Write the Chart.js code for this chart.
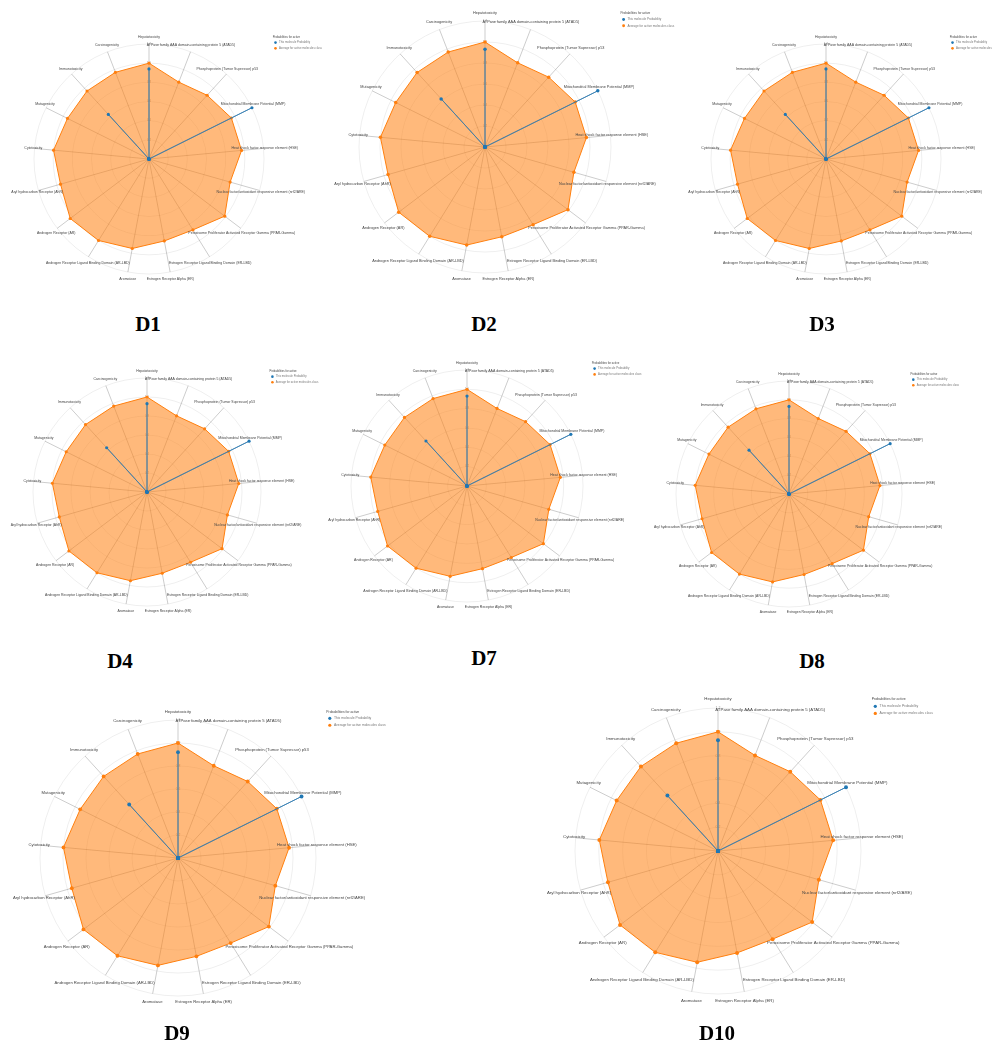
<!DOCTYPE html>
<html>
<head>
<meta charset="utf-8">
<script src="https://cdn.jsdelivr.net/npm/chart.js@4.4.1/dist/chart.umd.min.js"></script>
<style>
  html, body { margin: 0; padding: 0; background: #ffffff; }
  body { width: 992px; height: 1055px; position: relative; overflow: hidden; }
  canvas.radar { position: absolute; }
  .tag {
    position: absolute;
    font-family: "Liberation Serif", "Times New Roman", serif;
    font-weight: bold;
    font-size: 21px;
    color: #000;
    transform: translate(-50%, -50%);
    white-space: nowrap;
  }
</style>
</head>
<body>
<script>
// Toxicity end points, clockwise from the top spoke
const endpoints = [
  'Hepatotoxicity',
  'ATPase family AAA domain-containing protein 5 (ATAD5)',
  'Phosphoprotein (Tumor Supressor) p53',
  'Mitochondrial Membrane Potential (MMP)',
  'Heat shock factor response element (HSE)',
  'Nuclear factor/antioxidant responsive element (nrf2/ARE)',
  'Peroxisome Proliferator Activated Receptor Gamma (PPAR-Gamma)',
  'Estrogen Receptor Ligand Binding Domain (ER-LBD)',
  'Estrogen Receptor Alpha (ER)',
  'Aromatase',
  'Androgen Receptor Ligand Binding Domain (AR-LBD)',
  'Androgen Receptor (AR)',
  'Aryl hydrocarbon Receptor (AhR)',
  'Cytotoxicity',
  'Mutagenicity',
  'Immunotoxicity',
  'Carcinogenicity'
];

// Average probability of the active reference molecules for every end point
const activeAverage = [1.00, 0.86, 0.90, 0.96, 0.97, 0.88, 0.99, 0.87, 0.87, 0.95, 1.00, 1.03, 0.96, 1.00, 0.95, 0.96, 0.97];

// Predicted probability of each compound (active end points only)
const probD1  = [0.94, 0, 0, 1.20, 0, 0, 0, 0, 0, 0, 0, 0, 0, 0, 0, 0.63, 0];
const probD2  = [0.93, 0, 0, 1.20, 0, 0, 0, 0, 0, 0, 0, 0, 0, 0, 0, 0.62, 0];
const probD3  = [0.94, 0, 0, 1.20, 0, 0, 0, 0, 0, 0, 0, 0, 0, 0, 0, 0.63, 0];
const probD4  = [0.93, 0, 0, 1.20, 0, 0, 0, 0, 0, 0, 0, 0, 0, 0, 0, 0.63, 0];
const probD7  = [0.93, 0, 0, 1.20, 0, 0, 0, 0, 0, 0, 0, 0, 0, 0, 0, 0.63, 0];
const probD8  = [0.93, 0, 0, 1.20, 0, 0, 0, 0, 0, 0, 0, 0, 0, 0, 0, 0.63, 0];
const probD9  = [0.92, 0, 0, 1.20, 0, 0, 0, 0, 0, 0, 0, 0, 0, 0, 0, 0.63, 0];
const probD10 = [0.93, 0, 0, 1.20, 0, 0, 0, 0, 0, 0, 0, 0, 0, 0, 0, 0.63, 0];

const seriesNames = ['This molecule Probability', 'Average for active molecules class'];
const legendTitle = 'Probabilities for active';
const axisTicks = { min: 0, max: 1.2, step: 0.2 };

// Panel placement: radar centre, radius and caption position
const panels = [
  { tag: 'D1',  values: probD1,  cx: 149, cy: 159, r: 115, tagX: 148, tagY: 324 },
  { tag: 'D2',  values: probD2,  cx: 485, cy: 147, r: 126, tagX: 484, tagY: 324 },
  { tag: 'D3',  values: probD3,  cx: 826, cy: 159, r: 115, tagX: 822, tagY: 324 },
  { tag: 'D4',  values: probD4,  cx: 147, cy: 492, r: 114, tagX: 120, tagY: 661 },
  { tag: 'D7',  values: probD7,  cx: 467, cy: 486, r: 116, tagX: 484, tagY: 658 },
  { tag: 'D8',  values: probD8,  cx: 789, cy: 494, r: 113, tagX: 812, tagY: 661 },
  { tag: 'D9',  values: probD9,  cx: 178, cy: 858, r: 138, tagX: 177, tagY: 1033 },
  { tag: 'D10', values: probD10, cx: 718, cy: 851, r: 143, tagX: 717, tagY: 1033 }
];

const BLUE = 'rgb(31,119,180)';
const BLUE_LINE = 'rgba(31,119,180,0.6)';
const ORANGE = 'rgb(255,127,14)';
const FONT = '"Liberation Sans", Arial, sans-serif';

// Spoke captions centred on each axis end, plus the small legend block at the upper right
const radarDecor = {
  id: 'radarDecor',
  afterDraw(chart, args, opts) {
    const scale = chart.scales.r;
    const ctx = chart.ctx;
    const R = scale.drawingArea;
    const cx = scale.xCenter;
    const cy = scale.yCenter;
    const s = opts.scale;
    ctx.save();
    ctx.textAlign = 'center';
    ctx.textBaseline = 'middle';
    ctx.font = (3.5 * s) + 'px ' + FONT;
    ctx.fillStyle = '#444';
    const rr = R + 1.2 * s;
    chart.data.labels.forEach((text, i) => {
      const pt = scale.getPointPosition(i, rr);
      const dy = (pt.y - cy) / rr;
      ctx.fillText(text, pt.x, pt.y + dy * 6 * s);
    });

    // legend
    ctx.textAlign = 'left';
    ctx.font = (2.8 * s) + 'px ' + FONT;
    ctx.fillStyle = '#444';
    ctx.fillText(opts.title, cx + 1.075 * R, cy - 1.06 * R);
    chart.data.datasets.forEach((ds, i) => {
      const y = cy - (1.012 - 0.05 * i) * R;
      ctx.beginPath();
      ctx.arc(cx + 1.10 * R, y, 1.3 * s, 0, Math.PI * 2);
      ctx.fillStyle = ds.pointBackgroundColor;
      ctx.fill();
      ctx.fillStyle = '#777';
      ctx.fillText(ds.label, cx + 1.13 * R, y);
    });
    ctx.restore();
  }
};

panels.forEach(p => {
  const s = p.r / 115;
  const tickSize = 2.8 * s;
  const bp = 0.5;
  const half = (tickSize + 2 * bp) / 2;
  const W = 2 * Math.round(p.r * 1.8);
  const H = 2 * Math.round(p.r * 1.3);

  const canvas = document.createElement('canvas');
  canvas.className = 'radar';
  canvas.width = W;
  canvas.height = H;
  canvas.style.width = W + 'px';
  canvas.style.height = H + 'px';
  canvas.style.left = (p.cx - W / 2) + 'px';
  canvas.style.top = (p.cy - H / 2) + 'px';
  document.body.appendChild(canvas);

  const padX = W / 2 - p.r - half;
  const padY = H / 2 - p.r - half;

  new Chart(canvas, {
    type: 'radar',
    data: {
      labels: endpoints,
      datasets: [
        {
          label: seriesNames[0],
          data: p.values,
          borderColor: BLUE_LINE,
          backgroundColor: 'rgba(31,119,180,0.15)',
          borderWidth: 1,
          pointRadius: 1.6 * s,
          pointBorderWidth: 0,
          pointBackgroundColor: BLUE,
          fill: true
        },
        {
          label: seriesNames[1],
          data: activeAverage,
          borderColor: ORANGE,
          backgroundColor: 'rgba(255,127,14,0.55)',
          borderWidth: 1,
          pointRadius: 1.6 * s,
          pointBorderWidth: 0,
          pointBackgroundColor: ORANGE,
          fill: true
        }
      ]
    },
    options: {
      responsive: false,
      animation: false,
      devicePixelRatio: 1,
      layout: { padding: { left: padX, right: padX, top: padY, bottom: padY } },
      elements: { line: { tension: 0 } },
      scales: {
        r: {
          min: axisTicks.min,
          max: axisTicks.max,
          ticks: {
            stepSize: axisTicks.step,
            font: { size: tickSize, family: FONT },
            color: '#999',
            showLabelBackdrop: true,
            backdropColor: 'rgba(255,255,255,0.55)',
            backdropPadding: bp,
            callback: v => v.toFixed(1)
          },
          pointLabels: { display: false },
          grid: { circular: true, color: 'rgba(0,0,0,0.065)', lineWidth: 1 },
          angleLines: { color: 'rgba(0,0,0,0.2)', lineWidth: 1 }
        }
      },
      plugins: {
        legend: { display: false },
        tooltip: { enabled: false },
        radarDecor: { scale: s, title: legendTitle }
      }
    },
    plugins: [radarDecor]
  });

  const tag = document.createElement('div');
  tag.className = 'tag';
  tag.textContent = p.tag;
  tag.style.left = p.tagX + 'px';
  tag.style.top = p.tagY + 'px';
  document.body.appendChild(tag);
});
</script>
</body>
</html>
